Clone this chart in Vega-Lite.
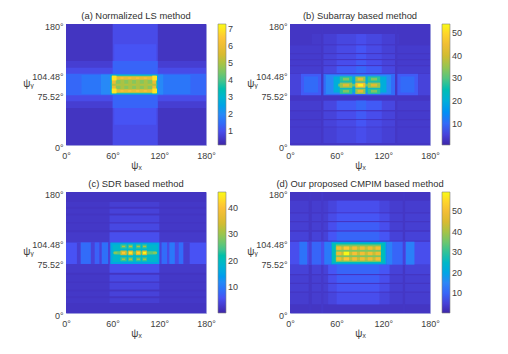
{"$schema":"https://vega.github.io/schema/vega-lite/v6.json","background":"white","padding":{"left":22,"top":10,"right":5,"bottom":2},"bounds":"flush","columns":2,"spacing":{"row":47,"column":84},"resolve":{"scale":{"color":"independent"}},
"config":{"font":"Liberation Sans","view":{"stroke":"#9c9cdc","strokeWidth":1},"axis":{"grid":false,"ticks":false,"labelFontSize":9,"labelColor":"#404040","titleColor":"#404040","titleFontSize":10,"titleFontWeight":"normal","domain":false,"labelPadding":3,"labelOverlap":false,"labelFlush":false},"title":{"fontSize":9.4,"fontWeight":"normal","color":"#303030","offset":0,"dy":3},"legend":{"gradientLength":121,"gradientThickness":8,"offset":12,"padding":0,"labelFontSize":9,"labelColor":"#404040","gradientStrokeColor":"#808080","gradientStrokeWidth":0.6,"labelOffset":3}},
"datasets":{
"a":[{"x":0,"x2":180,"y":0,"y2":180,"v":0.5},{"x":0,"x2":180,"y":55,"y2":125,"v":0.7},{"x":0,"x2":180,"y":65,"y2":115,"v":0.95},{"x":60,"x2":118,"y":0,"y2":180,"v":0.95},{"x":62,"x2":116,"y":30,"y2":150,"v":1.1},{"x":60,"x2":118,"y":55,"y2":125,"v":1.35},{"x":0,"x2":180,"y":74,"y2":106,"v":1.4},{"x":20,"x2":160,"y":76,"y2":104,"v":1.65},{"x":45,"x2":125,"y":75,"y2":105,"v":2.0},{"x":57,"x2":118,"y":75,"y2":105,"v":3.0},{"x":59,"x2":116,"y":77,"y2":103,"v":4.6},{"x":59,"x2":116,"y":97,"y2":102,"v":5.9},{"x":59,"x2":116,"y":78,"y2":83,"v":5.9},{"x":59,"x2":64,"y":77,"y2":103,"v":6.0},{"x":111,"x2":116,"y":77,"y2":103,"v":6.0},{"x":59,"x2":116,"y":88,"y2":91,"v":5.1},{"x":70,"x2":75,"y":83,"y2":97,"v":5.0},{"x":80,"x2":85,"y":83,"y2":97,"v":5.0},{"x":90,"x2":95,"y":83,"y2":97,"v":5.0},{"x":100,"x2":105,"y":83,"y2":97,"v":5.0},{"x":70,"x2":74,"y":98,"y2":101,"v":6.3},{"x":80,"x2":84,"y":98,"y2":101,"v":6.3},{"x":90,"x2":94,"y":98,"y2":101,"v":6.3},{"x":100,"x2":104,"y":98,"y2":101,"v":6.3},{"x":70,"x2":74,"y":79,"y2":82,"v":6.3},{"x":80,"x2":84,"y":79,"y2":82,"v":6.3},{"x":90,"x2":94,"y":79,"y2":82,"v":6.3},{"x":100,"x2":104,"y":79,"y2":82,"v":6.3},{"x":59,"x2":65,"y":96,"y2":103,"v":7.0},{"x":111,"x2":117,"y":96,"y2":103,"v":7.0},{"x":59,"x2":65,"y":77,"y2":84,"v":7.0},{"x":111,"x2":117,"y":77,"y2":84,"v":7.0}],
"b":[{"x":0,"x2":180,"y":0,"y2":180,"v":3},
{"x":0,"x2":180,"y":3,"y2":26,"v":3.8},{"x":41,"x2":135,"y":3,"y2":26,"v":4.5},{"x":60,"x2":118,"y":3,"y2":26,"v":5.5},{"x":85,"x2":98,"y":3,"y2":26,"v":6.5},
{"x":0,"x2":180,"y":27.5,"y2":37,"v":3.8},{"x":41,"x2":135,"y":27.5,"y2":37,"v":5},{"x":60,"x2":118,"y":27.5,"y2":37,"v":6},{"x":85,"x2":98,"y":27.5,"y2":37,"v":7.5},
{"x":0,"x2":180,"y":38.5,"y2":50,"v":3.8},{"x":41,"x2":135,"y":38.5,"y2":50,"v":5},{"x":60,"x2":118,"y":38.5,"y2":50,"v":6.5},{"x":85,"x2":98,"y":38.5,"y2":50,"v":8},
{"x":0,"x2":180,"y":52,"y2":66,"v":4},{"x":41,"x2":135,"y":52,"y2":66,"v":5.5},{"x":60,"x2":118,"y":52,"y2":66,"v":8},{"x":85,"x2":98,"y":52,"y2":66,"v":9.5},
{"x":0,"x2":180,"y":107,"y2":117,"v":4},{"x":41,"x2":135,"y":107,"y2":117,"v":5.5},{"x":60,"x2":118,"y":107,"y2":117,"v":8},{"x":85,"x2":98,"y":107,"y2":117,"v":9.5},
{"x":0,"x2":180,"y":119,"y2":126,"v":3.8},{"x":41,"x2":135,"y":119,"y2":126,"v":5},{"x":60,"x2":118,"y":119,"y2":126,"v":6.5},{"x":85,"x2":98,"y":119,"y2":126,"v":8},
{"x":0,"x2":180,"y":128,"y2":135,"v":3.8},{"x":41,"x2":135,"y":128,"y2":135,"v":5},{"x":60,"x2":118,"y":128,"y2":135,"v":6},{"x":85,"x2":98,"y":128,"y2":135,"v":7.5},
{"x":0,"x2":180,"y":137,"y2":148,"v":3.8},{"x":41,"x2":135,"y":137,"y2":148,"v":4.6},{"x":60,"x2":118,"y":137,"y2":148,"v":6},{"x":85,"x2":98,"y":137,"y2":148,"v":7.5},
{"x":28,"x2":140,"y":150,"y2":165,"v":3.6},{"x":41,"x2":135,"y":150,"y2":165,"v":4.4},{"x":60,"x2":118,"y":150,"y2":165,"v":5.5},{"x":85,"x2":98,"y":150,"y2":165,"v":6.5},
{"x":40,"x2":43,"y":0,"y2":180,"v":3.1},{"x":135,"x2":138,"y":0,"y2":180,"v":3.1},
{"x":0,"x2":14,"y":74,"y2":106,"v":5},{"x":14,"x2":40,"y":74,"y2":106,"v":8},{"x":18,"x2":36,"y":78,"y2":102,"v":10},{"x":138,"x2":165,"y":74,"y2":106,"v":8},{"x":142,"x2":160,"y":78,"y2":102,"v":10},{"x":165,"x2":180,"y":74,"y2":106,"v":5},
{"x":43,"x2":135,"y":74,"y2":106,"v":10},{"x":46,"x2":130,"y":76,"y2":104,"v":14},{"x":56,"x2":124,"y":78,"y2":102,"v":20},{"x":62,"x2":116,"y":87,"y2":91,"v":31},
{"x":64,"x2":80,"y":76,"y2":84,"v":27},{"x":84,"x2":97,"y":76,"y2":84,"v":35},{"x":100,"x2":116,"y":76,"y2":84,"v":27},{"x":64,"x2":80,"y":85,"y2":93,"v":35},{"x":84,"x2":97,"y":85,"y2":93,"v":45},{"x":100,"x2":116,"y":85,"y2":93,"v":35},{"x":64,"x2":80,"y":94,"y2":102,"v":27},{"x":84,"x2":97,"y":94,"y2":102,"v":35},{"x":100,"x2":116,"y":94,"y2":102,"v":27},
{"x":68,"x2":76,"y":78,"y2":82,"v":33},{"x":87,"x2":94,"y":78,"y2":82,"v":43},{"x":104,"x2":112,"y":78,"y2":82,"v":33},{"x":68,"x2":76,"y":87,"y2":91,"v":42},{"x":87,"x2":94,"y":87,"y2":91,"v":53},{"x":104,"x2":112,"y":87,"y2":91,"v":42},{"x":68,"x2":76,"y":96,"y2":100,"v":33},{"x":87,"x2":94,"y":96,"y2":100,"v":43},{"x":104,"x2":112,"y":96,"y2":100,"v":33}],
"c":[{"x":0,"x2":180,"y":0,"y2":180,"v":2.3},
{"x":0,"x2":180,"y":15,"y2":22,"v":2.7},{"x":56,"x2":120,"y":15,"y2":22,"v":3.6},{"x":0,"x2":180,"y":25,"y2":32,"v":2.7},{"x":56,"x2":120,"y":25,"y2":32,"v":4},{"x":0,"x2":180,"y":35,"y2":45,"v":2.7},{"x":56,"x2":120,"y":35,"y2":45,"v":4.3},{"x":0,"x2":180,"y":47,"y2":57,"v":2.7},{"x":56,"x2":120,"y":47,"y2":57,"v":4.7},{"x":0,"x2":180,"y":60,"y2":73,"v":2.9},{"x":56,"x2":120,"y":60,"y2":73,"v":5.5},
{"x":0,"x2":180,"y":105,"y2":120,"v":2.9},{"x":56,"x2":120,"y":105,"y2":120,"v":5.5},{"x":0,"x2":180,"y":123,"y2":133,"v":2.7},{"x":56,"x2":120,"y":123,"y2":133,"v":4.7},{"x":0,"x2":180,"y":135,"y2":145,"v":2.7},{"x":56,"x2":120,"y":135,"y2":145,"v":4.3},{"x":0,"x2":180,"y":148,"y2":155,"v":2.7},{"x":56,"x2":120,"y":148,"y2":155,"v":4},{"x":0,"x2":180,"y":158,"y2":165,"v":2.7},{"x":56,"x2":120,"y":158,"y2":165,"v":3.6},
{"x":0,"x2":180,"y":73,"y2":105,"v":6},{"x":14,"x2":19,"y":73,"y2":105,"v":3.5},{"x":19,"x2":32,"y":73,"y2":105,"v":8.5},{"x":32,"x2":37,"y":73,"y2":105,"v":4},{"x":37,"x2":43,"y":73,"y2":105,"v":7.5},{"x":43,"x2":46,"y":73,"y2":105,"v":4},{"x":46,"x2":54,"y":73,"y2":105,"v":9},{"x":54,"x2":57,"y":73,"y2":105,"v":4},{"x":120,"x2":123,"y":73,"y2":105,"v":4},{"x":123,"x2":130,"y":73,"y2":105,"v":8.5},{"x":130,"x2":133,"y":73,"y2":105,"v":5},{"x":133,"x2":140,"y":73,"y2":105,"v":10},{"x":140,"x2":145,"y":73,"y2":105,"v":5},{"x":145,"x2":151,"y":73,"y2":105,"v":8.5},{"x":151,"x2":159,"y":73,"y2":105,"v":3.5},
{"x":57,"x2":120,"y":73,"y2":105,"v":16},{"x":60,"x2":118,"y":76,"y2":102,"v":19},{"x":62,"x2":116,"y":87,"y2":92,"v":26},
{"x":70,"x2":78,"y":77,"y2":83,"v":24},{"x":80,"x2":86,"y":77,"y2":83,"v":25},{"x":90,"x2":96,"y":77,"y2":83,"v":24},{"x":98,"x2":104,"y":77,"y2":83,"v":24},{"x":70,"x2":78,"y":96,"y2":102,"v":24},{"x":80,"x2":86,"y":96,"y2":102,"v":25},{"x":90,"x2":96,"y":96,"y2":102,"v":24},{"x":98,"x2":104,"y":96,"y2":102,"v":24},
{"x":70,"x2":78,"y":86,"y2":93,"v":34},{"x":80,"x2":86,"y":86,"y2":93,"v":36},{"x":90,"x2":96,"y":86,"y2":93,"v":35},{"x":98,"x2":104,"y":86,"y2":93,"v":36},
{"x":72,"x2":76,"y":79,"y2":81,"v":32},{"x":81,"x2":85,"y":79,"y2":81,"v":33},{"x":91,"x2":95,"y":79,"y2":81,"v":32},{"x":99,"x2":103,"y":79,"y2":81,"v":32},{"x":72,"x2":76,"y":98,"y2":100,"v":32},{"x":81,"x2":85,"y":98,"y2":100,"v":33},{"x":91,"x2":95,"y":98,"y2":100,"v":32},{"x":99,"x2":103,"y":98,"y2":100,"v":32},
{"x":72,"x2":76,"y":88,"y2":91,"v":41},{"x":81,"x2":85,"y":88,"y2":91,"v":44},{"x":91,"x2":95,"y":88,"y2":91,"v":42},{"x":99,"x2":103,"y":88,"y2":91,"v":46},{"x":61,"x2":66,"y":88,"y2":91,"v":29},{"x":112,"x2":117,"y":88,"y2":91,"v":29}],
"d":[{"x":0,"x2":180,"y":0,"y2":180,"v":3},
{"x":0,"x2":180,"y":13,"y2":30,"v":4.2},{"x":49,"x2":128,"y":13,"y2":30,"v":5.5},{"x":60,"x2":115,"y":13,"y2":30,"v":7},
{"x":0,"x2":180,"y":32,"y2":43,"v":4.5},{"x":49,"x2":128,"y":32,"y2":43,"v":6.5},{"x":60,"x2":115,"y":32,"y2":43,"v":8},
{"x":0,"x2":180,"y":45,"y2":56,"v":4.5},{"x":49,"x2":128,"y":45,"y2":56,"v":7},{"x":60,"x2":115,"y":45,"y2":56,"v":9},
{"x":0,"x2":180,"y":58,"y2":72,"v":5},{"x":49,"x2":128,"y":58,"y2":72,"v":8},{"x":60,"x2":115,"y":58,"y2":72,"v":10},
{"x":0,"x2":180,"y":108,"y2":121,"v":5},{"x":49,"x2":128,"y":108,"y2":121,"v":8},{"x":60,"x2":115,"y":108,"y2":121,"v":10},
{"x":0,"x2":180,"y":123,"y2":135,"v":4.5},{"x":49,"x2":128,"y":123,"y2":135,"v":7},{"x":60,"x2":115,"y":123,"y2":135,"v":9},
{"x":0,"x2":180,"y":137,"y2":148,"v":4.5},{"x":49,"x2":128,"y":137,"y2":148,"v":6.5},{"x":60,"x2":115,"y":137,"y2":148,"v":8},
{"x":0,"x2":180,"y":150,"y2":167,"v":4.2},{"x":49,"x2":128,"y":150,"y2":167,"v":5.5},{"x":60,"x2":115,"y":150,"y2":167,"v":7},
{"x":24,"x2":28,"y":0,"y2":180,"v":3.2},{"x":40,"x2":43,"y":0,"y2":180,"v":3.6},{"x":145,"x2":148,"y":0,"y2":180,"v":3.2},
{"x":0,"x2":180,"y":72,"y2":106,"v":7},{"x":12,"x2":22,"y":72,"y2":106,"v":12},{"x":24,"x2":28,"y":72,"y2":106,"v":5},{"x":28,"x2":40,"y":72,"y2":106,"v":10},{"x":40,"x2":44,"y":72,"y2":106,"v":7},{"x":44,"x2":53,"y":72,"y2":106,"v":13},{"x":124,"x2":132,"y":72,"y2":106,"v":14},{"x":132,"x2":145,"y":72,"y2":106,"v":10},{"x":145,"x2":148,"y":72,"y2":106,"v":5},{"x":149,"x2":160,"y":72,"y2":106,"v":14},
{"x":53,"x2":124,"y":72,"y2":106,"v":20},{"x":54,"x2":122,"y":74,"y2":104,"v":27},{"x":59,"x2":117,"y":76,"y2":102,"v":36},
{"x":59,"x2":117,"y":78,"y2":83,"v":43},{"x":59,"x2":117,"y":86,"y2":91,"v":43},{"x":59,"x2":117,"y":94,"y2":99,"v":43},
{"x":60,"x2":66,"y":78,"y2":83,"v":49},{"x":69,"x2":76,"y":78,"y2":83,"v":53},{"x":80,"x2":86,"y":78,"y2":83,"v":50},{"x":90,"x2":96,"y":78,"y2":83,"v":49},{"x":100,"x2":106,"y":78,"y2":83,"v":49},{"x":110,"x2":116,"y":78,"y2":83,"v":50},
{"x":60,"x2":66,"y":86,"y2":91,"v":49},{"x":69,"x2":76,"y":86,"y2":91,"v":59},{"x":80,"x2":86,"y":86,"y2":91,"v":51},{"x":90,"x2":96,"y":86,"y2":91,"v":50},{"x":100,"x2":106,"y":86,"y2":91,"v":50},{"x":110,"x2":116,"y":86,"y2":91,"v":49},
{"x":60,"x2":66,"y":94,"y2":99,"v":49},{"x":69,"x2":76,"y":94,"y2":99,"v":53},{"x":80,"x2":86,"y":94,"y2":99,"v":50},{"x":90,"x2":96,"y":94,"y2":99,"v":49},{"x":100,"x2":106,"y":94,"y2":99,"v":49},{"x":110,"x2":116,"y":94,"y2":99,"v":50}]
},
"concat":[
{"title":"(a) Normalized LS method","width":140,"height":121,"data":{"name":"a"},"mark":{"type":"rect"},"encoding":{"x":{"field":"x","type":"quantitative","scale":{"domain":[0,180],"nice":false},"axis":{"values":[0,60,120,180],"labelExpr":"datum.value+'°'","title":"ψₓ","titlePadding":0,"labelPadding":6}},"x2":{"field":"x2"},"y":{"field":"y","type":"quantitative","scale":{"domain":[0,180],"nice":false},"axis":{"values":[0,75.52,104.48,180],"labelExpr":"datum.value+'°'","labelOffset":2,"title":"ψᵧ","titleAngle":0,"titleX":-38,"titleY":64}},"y2":{"field":"y2"},"color":{"field":"v","type":"quantitative","scale":{"domain":[0.2,7.3],"range":["#3e26a8","#4852f4","#2d87f7","#12b1d6","#2ec29a","#8ac65a","#d9ba30","#fdc038","#f9fb15"]},"legend":{"title":null,"values":[1,2,3,4,5,6,7]}}}},
{"title":"(b) Subarray based method","width":140,"height":121,"data":{"name":"b"},"mark":{"type":"rect"},"encoding":{"x":{"field":"x","type":"quantitative","scale":{"domain":[0,180],"nice":false},"axis":{"values":[0,60,120,180],"labelExpr":"datum.value+'°'","title":"ψₓ","titlePadding":0,"labelPadding":6}},"x2":{"field":"x2"},"y":{"field":"y","type":"quantitative","scale":{"domain":[0,180],"nice":false},"axis":{"values":[0,75.52,104.48,180],"labelExpr":"datum.value+'°'","labelOffset":2,"title":"ψᵧ","titleAngle":0,"titleX":-38,"titleY":64}},"y2":{"field":"y2"},"color":{"field":"v","type":"quantitative","scale":{"domain":[0.5,54],"range":["#3e26a8","#4852f4","#2d87f7","#12b1d6","#2ec29a","#8ac65a","#d9ba30","#fdc038","#f9fb15"]},"legend":{"title":null,"values":[10,20,30,40,50]}}}},
{"title":"(c) SDR based method","width":140,"height":121,"data":{"name":"c"},"mark":{"type":"rect"},"encoding":{"x":{"field":"x","type":"quantitative","scale":{"domain":[0,180],"nice":false},"axis":{"values":[0,60,120,180],"labelExpr":"datum.value+'°'","title":"ψₓ","titlePadding":0,"labelPadding":6}},"x2":{"field":"x2"},"y":{"field":"y","type":"quantitative","scale":{"domain":[0,180],"nice":false},"axis":{"values":[0,75.52,104.48,180],"labelExpr":"datum.value+'°'","labelOffset":2,"title":"ψᵧ","titleAngle":0,"titleX":-38,"titleY":64}},"y2":{"field":"y2"},"color":{"field":"v","type":"quantitative","scale":{"domain":[0.3,46],"range":["#3e26a8","#4852f4","#2d87f7","#12b1d6","#2ec29a","#8ac65a","#d9ba30","#fdc038","#f9fb15"]},"legend":{"title":null,"values":[10,20,30,40]}}}},
{"title":"(d) Our proposed CMPIM based method","width":140,"height":121,"data":{"name":"d"},"mark":{"type":"rect"},"encoding":{"x":{"field":"x","type":"quantitative","scale":{"domain":[0,180],"nice":false},"axis":{"values":[0,60,120,180],"labelExpr":"datum.value+'°'","title":"ψₓ","titlePadding":0,"labelPadding":6}},"x2":{"field":"x2"},"y":{"field":"y","type":"quantitative","scale":{"domain":[0,180],"nice":false},"axis":{"values":[0,75.52,104.48,180],"labelExpr":"datum.value+'°'","labelOffset":2,"title":"ψᵧ","titleAngle":0,"titleX":-38,"titleY":64}},"y2":{"field":"y2"},"color":{"field":"v","type":"quantitative","scale":{"domain":[0.3,59.5],"range":["#3e26a8","#4852f4","#2d87f7","#12b1d6","#2ec29a","#8ac65a","#d9ba30","#fdc038","#f9fb15"]},"legend":{"title":null,"values":[10,20,30,40,50]}}}}
]}
